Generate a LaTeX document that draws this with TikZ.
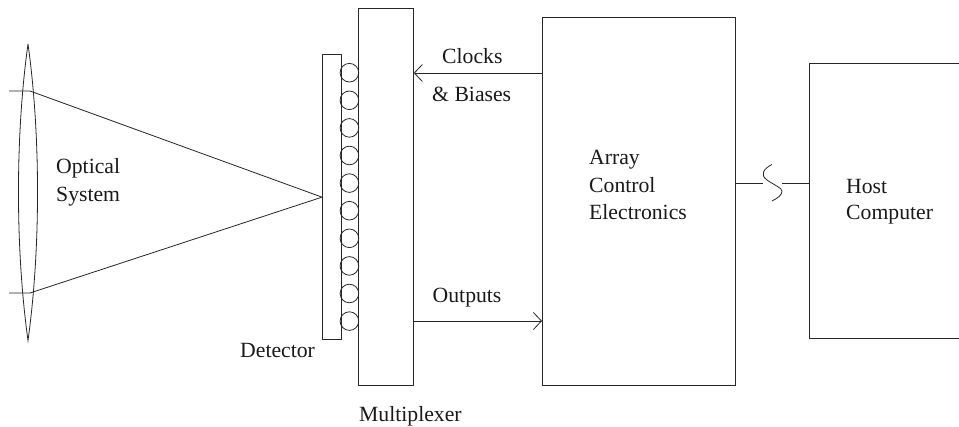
\documentclass[tikz,border=0pt]{standalone}
\usepackage{fontspec}
\setmainfont{Liberation Serif}
\usetikzlibrary{arrows.meta,calc}
\tikzset{
  line/.style={draw=black!85,line width=0.8pt},
  blockbox/.style={line,rectangle,inner sep=0pt,anchor=north west},
  bump/.style={line,circle,inner sep=0pt,minimum size=18.6pt},
  lbl/.style={font=\fontsize{21.7}{24}\selectfont,inner sep=0pt,anchor=base west,text=black!90},
  arr/.style={line,-{Straight Barb[length=8pt,width=17pt,line width=0.8pt]}}
}
\begin{document}
\begin{tikzpicture}[x=1pt,y=-1pt]
\useasboundingbox (0,0) rectangle (959,427);
\node[blockbox,minimum width=18.5pt,minimum height=284.5pt] (det) at (322,54.5) {};
\node[blockbox,minimum width=55pt,minimum height=376.5pt] (mux) at (358,8.5) {};
\node[blockbox,minimum width=193pt,minimum height=368pt] (ace) at (542,17) {};
\node[blockbox,minimum width=160pt,minimum height=275pt] (host) at (808.5,63.5) {};
\foreach \i in {0,...,9}
  \node[bump] (b\i) at (349.4,72.7+27.6*\i) {};
\coordinate (lt) at (28,44);
\coordinate (lb) at (28,340.5);
\draw[line] (lt) .. controls (15.3,135) and (15.3,249) .. (lb)
            .. controls (40.7,249) and (40.7,135) .. (lt);
\coordinate (f) at (det.west);
\coordinate (u0) at (9,91);
\coordinate (u1) at (30,91);
\coordinate (d0) at (9,293);
\coordinate (d1) at (30,293);
\draw[line] (u0) -- (u1) -- (f) -- (d1) -- (d0);
\coordinate (clk) at (542,73);
\coordinate (out) at (413,321);
\draw[arr] (clk) -- (mux.east |- clk);
\draw[arr] (out) -- (ace.west |- out);
\coordinate (l1) at (763,183);
\coordinate (l2) at (782,183);
\draw[line] (ace.east |- l1) -- (l1);
\draw[line] (l2) -- (host.west |- l2);
\coordinate (s0) at (772,164.5);
\coordinate (s1) at (772,201);
\draw[line] (s0) .. controls (763,169) and (760,175) .. (767,180)
            .. controls (774,185) and (782,188) .. (782,191)
            .. controls (782,195) and (778,198) .. (s1);
\node[lbl] (t1) at (56,174) {Optical};
\node[lbl] (t2) at (56,202) {System};
\node[lbl] (t3) at (442,64) {Clocks};
\node[lbl] (t4) at (432,102) {\& Biases};
\node[lbl] (t5) at (432.5,302.5) {Outputs};
\node[lbl] (t6) at (240,358) {Detector};
\node[lbl] (t7) at (359,421.5) {Multiplexer};
\node[lbl] (t8) at (589,165) {Array};
\node[lbl] (t9) at (589,192.5) {Control};
\node[lbl] (t10) at (589,219.5) {Electronics};
\node[lbl] (t11) at (846,193.5) {Host};
\node[lbl] (t12) at (846,220) {Computer};
\end{tikzpicture}
\end{document}
